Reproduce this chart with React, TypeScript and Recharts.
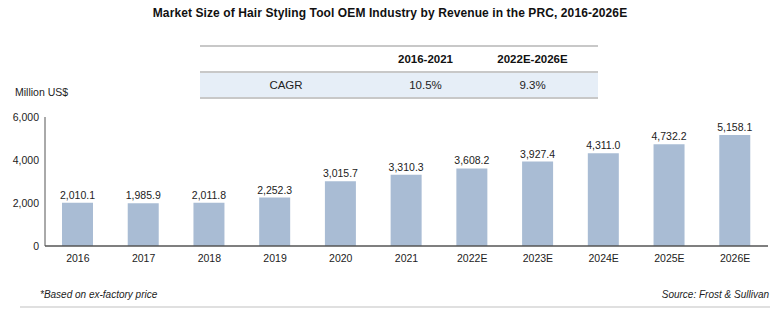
import React from "react";
import { BarChart, Bar, XAxis, YAxis, LabelList } from "recharts";

const years = ["2016", "2017", "2018", "2019", "2020", "2021", "2022E", "2023E", "2024E", "2025E", "2026E"];
const revenue = [2010.1, 1985.9, 2011.8, 2252.3, 3015.7, 3310.3, 3608.2, 3927.4, 4311.0, 4732.2, 5158.1];
const yTicks = [0, 2000, 4000, 6000];
const cagrPeriods = ["2016-2021", "2022E-2026E"];
const cagrValues = ["10.5%", "9.3%"];

const data = years.map((year, i) => ({ year, revenue: revenue[i] }));

const font = "'Liberation Sans', Arial, sans-serif";
const fmt = (v: number) => v.toLocaleString("en-US", { minimumFractionDigits: 1, maximumFractionDigits: 1 });
const fmtTick = (v: number) => v.toLocaleString("en-US");

export default function App() {
  return (
    <div style={{ position: "absolute", left: 0, top: 0, width: 780, height: 322, background: "#fff", fontFamily: font, color: "#222" }}>
      <div style={{ position: "absolute", top: 6, left: 0, width: 780, textAlign: "center", fontSize: 12, fontWeight: "bold", color: "#111", letterSpacing: 0.1 }}>
        Market Size of Hair Styling Tool OEM Industry by Revenue in the PRC, 2016-2026E
      </div>

      {/* CAGR table */}
      <div style={{ position: "absolute", left: 200, top: 45, width: 398, borderTop: "2px solid #c8c8c8" }}>
        <div style={{ display: "flex", height: 24, alignItems: "center", fontSize: 11.5, fontWeight: "bold", color: "#111", borderBottom: "2px solid #c8c8c8" }}>
          <div style={{ width: 172 }} />
          {cagrPeriods.map((p) => (
            <div key={p} style={{ width: 107, textAlign: "center" }}>{p}</div>
          ))}
        </div>
        <div style={{ display: "flex", height: 24, alignItems: "center", fontSize: 11.5, background: "#e6eef7", borderBottom: "2px solid #c8c8c8" }}>
          <div style={{ width: 172, textAlign: "center" }}>CAGR</div>
          {cagrValues.map((v) => (
            <div key={v} style={{ width: 107, textAlign: "center" }}>{v}</div>
          ))}
        </div>
      </div>

      <div style={{ position: "absolute", left: 15, top: 86, fontSize: 10.5 }}>Million US$</div>

      <div style={{ position: "absolute", left: 0, top: 0 }}>
        <BarChart width={780} height={322} data={data} margin={{ top: 117, right: 12, bottom: 46, left: 0 }}>
          <XAxis
            dataKey="year"
            height={30}
            axisLine={{ stroke: "#555", strokeWidth: 1.5 }}
            tickLine={false}
            tickSize={0}
            tickMargin={9}
            tick={{ fontSize: 10.5, fill: "#222", fontFamily: font }}
            interval={0}
          />
          <YAxis
            domain={[0, 6000]}
            ticks={yTicks}
            tickFormatter={fmtTick}
            width={45}
            axisLine={{ stroke: "#555", strokeWidth: 1 }}
            tickLine={false}
            tickSize={0}
            tickMargin={6}
            tick={{ fontSize: 10.5, fill: "#222", fontFamily: font }}
          />
          <Bar dataKey="revenue" fill="#a9bcd4" barSize={31} isAnimationActive={false}>
            <LabelList dataKey="revenue" position="top" offset={4} formatter={(v: number) => fmt(v)} style={{ fontSize: 10.5, fill: "#222", fontFamily: font }} />
          </Bar>
        </BarChart>
      </div>

      <div style={{ position: "absolute", left: 40, top: 289, fontSize: 10, fontStyle: "italic" }}>*Based on ex-factory price</div>
      <div style={{ position: "absolute", right: 11, top: 289, fontSize: 10, fontStyle: "italic" }}>Source: Frost &amp; Sullivan</div>
      <div style={{ position: "absolute", left: 20, top: 306, width: 750, borderTop: "2px solid #e0e0e0" }} />
    </div>
  );
}
